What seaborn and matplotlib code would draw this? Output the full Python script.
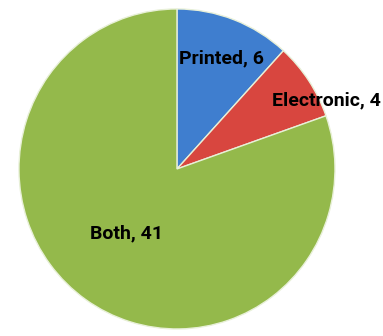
import matplotlib
matplotlib.use("Agg")
import matplotlib.pyplot as plt
import seaborn as sns

# slice data, clockwise from 12 o'clock
categories = ["Printed", "Electronic", "Both"]
counts = [6, 4, 41]
colors = ["#3F7ECF", "#D8463F", "#94B94B"]

# label anchor points (data units, pie radius = 1)
label_x = [0.283, 0.945, -0.32]
label_y = [0.69, 0.43, -0.40]

sns.set_theme(style="white")
plt.rcParams["font.family"] = ["Roboto", "Liberation Sans", "DejaVu Sans"]

fig = plt.figure(figsize=(3.83, 3.36), dpi=100)
ax = fig.add_axes([0, 0, 1, 1])

wedges, _ = ax.pie(
    counts,
    colors=colors,
    startangle=90,
    counterclock=False,
    radius=1.0,
    wedgeprops=dict(edgecolor="#E8F0D8", linewidth=1.0),
)

for cat, n, x, y in zip(categories, counts, label_x, label_y):
    ax.text(x, y, f"{cat}, {n}", ha="center", va="center",
            fontsize=14, fontweight="bold", color="black")

# map pie to the picture's pixel layout
ax.set_aspect("auto")
ax.set_xlim(-1.12, 1.304)
ax.set_ylim(-1.044, 1.056)
ax.axis("off")

fig.savefig("out.png", dpi=100, facecolor="white")
